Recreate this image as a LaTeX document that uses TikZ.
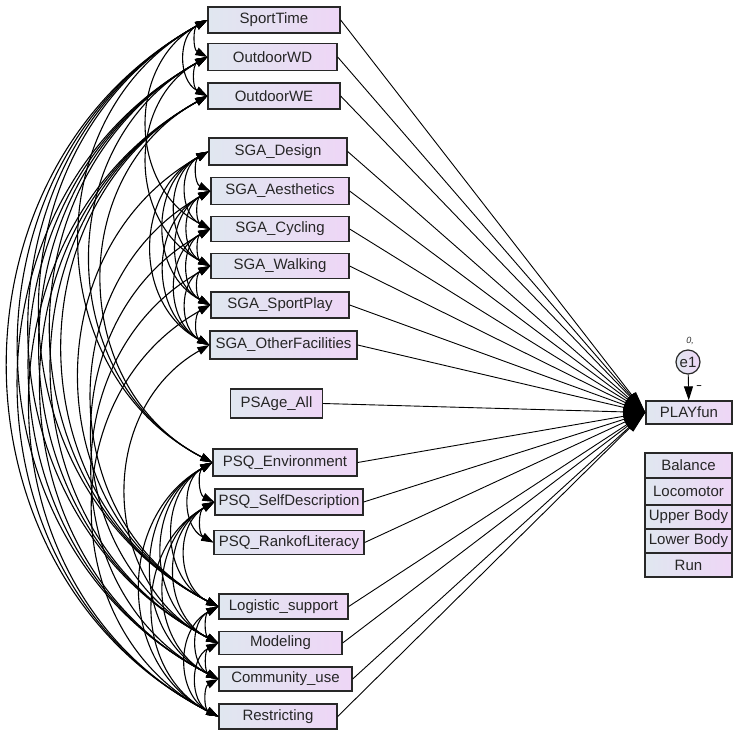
\documentclass[tikz,border=0pt]{standalone}
\usepackage{fontspec}
\setmainfont{Liberation Sans}
\usetikzlibrary{arrows.meta}
\definecolor{boxL}{RGB}{224,231,240}
\definecolor{boxR}{RGB}{238,214,246}
\definecolor{edgec}{RGB}{40,40,40}
\begin{document}
\begin{tikzpicture}[x=1pt,y=-1pt,
  var/.style={draw=edgec, line width=1.3pt, left color=boxL, right color=boxR, inner sep=0pt,
    font=\fontsize{15}{17}\selectfont, text=black!85},
  cov/.style={line width=1.1pt, {Triangle[length=12pt,width=8pt]}-{Triangle[length=12pt,width=8pt]},
    bend right=62, looseness=1.13},
  reg/.style={line width=0.9pt, -{Triangle[length=22pt,width=10pt]}}]
\useasboundingbox (0,0) rectangle (744,745);
\fill[white] (0,0) rectangle (744,745);

% exogenous variables
\node[var, minimum width=132pt, minimum height=26pt] (v1) at (274,20) {SportTime};
\node[var, minimum width=129pt, minimum height=27pt] (v2) at (272.5,57) {OutdoorWD};
\node[var, minimum width=132pt, minimum height=26pt] (v3) at (274,96) {OutdoorWE};
\node[var, minimum width=138pt, minimum height=27pt] (v4) at (278,151.5) {SGA\_Design};
\node[var, minimum width=138pt, minimum height=27pt] (v5) at (280,191) {SGA\_Aesthetics};
\node[var, minimum width=138pt, minimum height=25pt] (v6) at (280,229) {SGA\_Cycling};
\node[var, minimum width=138pt, minimum height=25pt] (v7) at (280,266) {SGA\_Walking};
\node[var, minimum width=138pt, minimum height=26pt] (v8) at (280,305) {SGA\_SportPlay};
\node[var, minimum width=147pt, minimum height=28pt] (v9) at (283.5,345) {SGA\_OtherFacilities};
\node[var, minimum width=92pt, minimum height=29pt] (age) at (276.5,403.5) {PSAge\_All};
\node[var, minimum width=144pt, minimum height=27pt] (v10) at (285,462.5) {PSQ\_Environment};
\node[var, minimum width=148pt, minimum height=26pt] (v11) at (289,502) {PSQ\_SelfDescription};
\node[var, minimum width=150pt, minimum height=24pt] (v12) at (289,542.5) {PSQ\_RankofLiteracy};
\node[var, minimum width=129pt, minimum height=25pt] (v13) at (283.5,606.5) {Logistic\_support};
\node[var, minimum width=123pt, minimum height=23pt] (v14) at (280.5,643) {Modeling};
\node[var, minimum width=133pt, minimum height=24pt] (v15) at (285.5,679) {Community\_use};
\node[var, minimum width=118pt, minimum height=25pt] (v16) at (278,716.5) {Restricting};

% endogenous
\node[var, minimum width=86pt, minimum height=23pt] (play) at (689,412.5) {PLAYfun};
\node[circle, draw=edgec, line width=1.2pt, left color=boxL, right color=boxR, minimum size=24pt,
  inner sep=0pt, font=\fontsize{15}{17}\selectfont, text=black!85] (e1) at (688,362) {e1};
\node[font=\itshape\fontsize{9}{10}\selectfont, text=black!80] (e1v) at (690,341) {0,};
\node[font=\bfseries\fontsize{9}{10}\selectfont] (e1w) at (699,387) {–};
\draw[line width=0.9pt, -{Triangle[length=14pt,width=9pt]}] (e1) -- (play);

% stacked boxes
\node[var, minimum width=87pt, minimum height=25pt] (bal) at (688.5,465.5) {Balance};
\node[var, minimum width=87pt, minimum height=27pt] (loc) at (688.5,491.5) {Locomotor};
\node[var, minimum width=87pt, minimum height=24pt] (upb) at (688.5,517) {Upper Body};
\node[var, minimum width=87pt, minimum height=24pt] (lob) at (688.5,541) {Lower Body};
\node[var, minimum width=87pt, minimum height=24pt] (run) at (688.5,565) {Run};

% regression paths
\foreach \i in {1,...,16}{\draw[reg] (v\i.east) -- (play.west);}
\draw[reg] (age.east) -- (play.west);

% covariances
\foreach \a/\b in {1/2,1/3,2/3,
  4/5,4/6,4/7,4/8,4/9,5/6,5/7,5/8,5/9,6/7,6/8,6/9,7/8,7/9,8/9,
  10/11,10/12,11/12,
  13/14,13/15,13/16,14/15,14/16,15/16,
  1/13,1/14,1/15,1/16,2/13,2/14,2/15,2/16,3/13,3/14,3/15,3/16,
  1/10,2/10,3/10,1/6,2/7,
  10/13,10/14,10/15,10/16,11/13,11/14,11/15,11/16,
  5/13,6/14,7/15,8/16,9/14,4/13}{
  \draw[cov] (v\a.west) to (v\b.west);
}
\end{tikzpicture}
\end{document}
